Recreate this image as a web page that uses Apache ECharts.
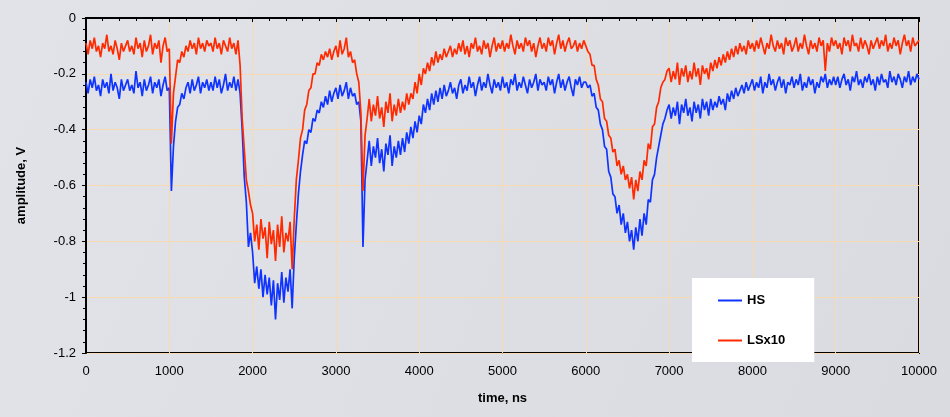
<!DOCTYPE html>
<html>
<head>
<meta charset="utf-8">
<script src="https://cdn.jsdelivr.net/npm/echarts@6/dist/echarts.min.js"></script>
<style>
html, body { margin: 0; padding: 0; }
#chart { width: 950px; height: 417px; }
</style>
</head>
<body>
<div id="chart"></div>
<script>
// samples every 25 ns, 0 .. 10000 ns
var sampleStep = 25;

// HS channel, V
var hsValues = [
  -0.23,-0.27,-0.22,-0.25,-0.21,-0.26,-0.24,-0.28,-0.22,-0.25,-0.23,-0.27,-0.20,-0.26,-0.23,-0.25,-0.29,-0.22,-0.26,-0.24,
  -0.22,-0.26,-0.24,-0.27,-0.19,-0.25,-0.23,-0.28,-0.22,-0.26,-0.24,-0.21,-0.27,-0.23,-0.25,-0.22,-0.28,-0.24,-0.21,-0.26,
  -0.25,-0.62,-0.46,-0.37,-0.32,-0.31,-0.27,-0.29,-0.25,-0.23,-0.27,-0.22,-0.26,-0.24,-0.21,-0.27,-0.23,-0.25,-0.22,-0.26,
  -0.23,-0.26,-0.21,-0.25,-0.22,-0.27,-0.24,-0.20,-0.26,-0.23,-0.25,-0.21,-0.26,-0.22,-0.27,-0.40,-0.57,-0.66,-0.82,-0.77,
  -0.84,-0.95,-0.89,-0.97,-0.90,-1.00,-0.92,-0.99,-0.93,-1.03,-0.94,-1.08,-0.95,-1.01,-0.91,-1.02,-0.93,-0.98,-0.90,-1.04,
  -0.86,-0.74,-0.63,-0.55,-0.49,-0.44,-0.45,-0.40,-0.41,-0.36,-0.37,-0.33,-0.34,-0.30,-0.32,-0.28,-0.31,-0.26,-0.30,-0.27,
  -0.25,-0.29,-0.24,-0.28,-0.26,-0.23,-0.29,-0.25,-0.28,-0.27,-0.31,-0.30,-0.37,-0.82,-0.58,-0.51,-0.44,-0.53,-0.46,-0.50,
  -0.43,-0.52,-0.47,-0.55,-0.45,-0.49,-0.42,-0.53,-0.46,-0.50,-0.44,-0.49,-0.43,-0.48,-0.41,-0.45,-0.39,-0.43,-0.37,-0.41,
  -0.35,-0.38,-0.31,-0.34,-0.29,-0.33,-0.27,-0.31,-0.26,-0.30,-0.25,-0.29,-0.24,-0.28,-0.26,-0.23,-0.27,-0.25,-0.29,-0.24,
  -0.22,-0.27,-0.24,-0.26,-0.21,-0.25,-0.23,-0.28,-0.24,-0.21,-0.26,-0.23,-0.25,-0.20,-0.24,-0.27,-0.22,-0.25,-0.23,-0.26,
  -0.21,-0.25,-0.23,-0.27,-0.22,-0.24,-0.20,-0.26,-0.23,-0.25,-0.21,-0.24,-0.27,-0.22,-0.25,-0.23,-0.20,-0.26,-0.22,-0.24,
  -0.23,-0.26,-0.21,-0.24,-0.22,-0.27,-0.23,-0.20,-0.25,-0.22,-0.26,-0.23,-0.21,-0.25,-0.28,-0.22,-0.24,-0.21,-0.25,-0.23,
  -0.23,-0.25,-0.24,-0.28,-0.27,-0.32,-0.33,-0.38,-0.40,-0.46,-0.47,-0.55,-0.57,-0.63,-0.64,-0.70,-0.67,-0.74,-0.70,-0.77,
  -0.73,-0.80,-0.76,-0.83,-0.75,-0.80,-0.72,-0.78,-0.70,-0.74,-0.65,-0.66,-0.58,-0.56,-0.50,-0.46,-0.42,-0.38,-0.36,-0.33,
  -0.31,-0.36,-0.32,-0.35,-0.30,-0.38,-0.31,-0.34,-0.29,-0.35,-0.32,-0.37,-0.30,-0.34,-0.31,-0.36,-0.29,-0.33,-0.30,-0.35,
  -0.29,-0.33,-0.30,-0.32,-0.28,-0.31,-0.29,-0.33,-0.27,-0.30,-0.26,-0.29,-0.25,-0.28,-0.26,-0.24,-0.27,-0.23,-0.26,-0.24,
  -0.22,-0.26,-0.23,-0.25,-0.21,-0.27,-0.23,-0.25,-0.20,-0.24,-0.22,-0.26,-0.23,-0.21,-0.25,-0.22,-0.27,-0.23,-0.24,-0.21,
  -0.25,-0.22,-0.24,-0.20,-0.26,-0.23,-0.25,-0.21,-0.24,-0.22,-0.27,-0.23,-0.25,-0.21,-0.23,-0.20,-0.25,-0.22,-0.24,-0.21,
  -0.24,-0.21,-0.25,-0.22,-0.20,-0.24,-0.22,-0.26,-0.21,-0.23,-0.19,-0.24,-0.22,-0.25,-0.21,-0.23,-0.20,-0.24,-0.22,-0.26,
  -0.21,-0.24,-0.20,-0.23,-0.22,-0.25,-0.19,-0.23,-0.21,-0.24,-0.20,-0.22,-0.25,-0.21,-0.23,-0.19,-0.24,-0.21,-0.23,-0.20,
  -0.22
];

// LS channel x10, V
var lsValues = [
  -0.09,-0.13,-0.08,-0.11,-0.07,-0.12,-0.10,-0.14,-0.09,-0.11,-0.06,-0.12,-0.10,-0.13,-0.08,-0.11,-0.15,-0.09,-0.12,-0.10,
  -0.08,-0.12,-0.10,-0.13,-0.07,-0.11,-0.09,-0.14,-0.08,-0.12,-0.10,-0.06,-0.13,-0.09,-0.11,-0.08,-0.16,-0.10,-0.07,-0.12,
  -0.11,-0.45,-0.27,-0.21,-0.15,-0.16,-0.12,-0.14,-0.10,-0.12,-0.08,-0.11,-0.09,-0.13,-0.07,-0.11,-0.09,-0.12,-0.08,-0.10,
  -0.09,-0.12,-0.07,-0.11,-0.09,-0.13,-0.08,-0.10,-0.12,-0.07,-0.11,-0.09,-0.13,-0.08,-0.17,-0.36,-0.47,-0.58,-0.62,-0.67,
  -0.70,-0.80,-0.74,-0.83,-0.72,-0.79,-0.75,-0.86,-0.73,-0.81,-0.76,-0.87,-0.74,-0.82,-0.71,-0.84,-0.77,-0.80,-0.73,-0.90,
  -0.72,-0.58,-0.51,-0.43,-0.40,-0.33,-0.31,-0.26,-0.25,-0.20,-0.20,-0.16,-0.17,-0.13,-0.15,-0.12,-0.14,-0.11,-0.15,-0.12,
  -0.10,-0.14,-0.08,-0.13,-0.11,-0.07,-0.14,-0.12,-0.16,-0.15,-0.20,-0.23,-0.34,-0.62,-0.42,-0.36,-0.29,-0.37,-0.31,-0.35,
  -0.28,-0.36,-0.32,-0.39,-0.30,-0.34,-0.27,-0.37,-0.31,-0.35,-0.29,-0.34,-0.30,-0.33,-0.27,-0.31,-0.27,-0.29,-0.23,-0.27,
  -0.20,-0.24,-0.18,-0.20,-0.16,-0.19,-0.14,-0.17,-0.12,-0.16,-0.13,-0.15,-0.11,-0.14,-0.12,-0.10,-0.14,-0.11,-0.13,-0.09,
  -0.12,-0.08,-0.13,-0.10,-0.14,-0.09,-0.11,-0.07,-0.12,-0.10,-0.13,-0.08,-0.11,-0.09,-0.14,-0.10,-0.07,-0.12,-0.09,-0.11,
  -0.08,-0.12,-0.09,-0.11,-0.06,-0.10,-0.13,-0.08,-0.11,-0.09,-0.12,-0.07,-0.10,-0.08,-0.12,-0.09,-0.14,-0.10,-0.07,-0.11,
  -0.09,-0.12,-0.07,-0.10,-0.08,-0.13,-0.09,-0.06,-0.11,-0.08,-0.12,-0.09,-0.07,-0.11,-0.10,-0.08,-0.12,-0.09,-0.11,-0.08,
  -0.10,-0.12,-0.13,-0.17,-0.17,-0.22,-0.24,-0.29,-0.30,-0.36,-0.37,-0.42,-0.43,-0.48,-0.47,-0.53,-0.51,-0.56,-0.53,-0.58,
  -0.56,-0.61,-0.57,-0.65,-0.58,-0.62,-0.55,-0.58,-0.51,-0.53,-0.45,-0.47,-0.39,-0.38,-0.32,-0.30,-0.25,-0.23,-0.22,-0.19,
  -0.18,-0.23,-0.19,-0.22,-0.16,-0.24,-0.18,-0.21,-0.17,-0.23,-0.19,-0.22,-0.16,-0.21,-0.18,-0.24,-0.17,-0.20,-0.18,-0.22,
  -0.16,-0.19,-0.15,-0.18,-0.14,-0.17,-0.13,-0.16,-0.12,-0.15,-0.11,-0.14,-0.10,-0.13,-0.09,-0.12,-0.10,-0.13,-0.08,-0.11,
  -0.09,-0.12,-0.08,-0.11,-0.07,-0.10,-0.13,-0.09,-0.11,-0.06,-0.10,-0.12,-0.08,-0.11,-0.09,-0.13,-0.07,-0.10,-0.08,-0.12,
  -0.10,-0.07,-0.12,-0.09,-0.11,-0.06,-0.10,-0.13,-0.08,-0.11,-0.09,-0.12,-0.07,-0.10,-0.08,-0.19,-0.09,-0.12,-0.07,-0.10,
  -0.08,-0.11,-0.09,-0.13,-0.07,-0.10,-0.08,-0.12,-0.06,-0.10,-0.09,-0.12,-0.07,-0.11,-0.08,-0.10,-0.13,-0.08,-0.11,-0.09,
  -0.07,-0.11,-0.08,-0.10,-0.06,-0.12,-0.09,-0.11,-0.07,-0.10,-0.08,-0.13,-0.09,-0.06,-0.10,-0.08,-0.12,-0.07,-0.10,-0.09,
  -0.08
];

var seriesNames = ['HS', 'LSx10'];
var seriesColors = ['#1034ff', '#ff2a00'];

function toPairs(vals) {
  var out = [];
  for (var i = 0; i < vals.length; i++) {
    out.push([i * sampleStep, vals[i]]);
  }
  return out;
}

var font = '"Liberation Sans", Arial, sans-serif';
var gridColor = '#f7d9b2';

var chart = echarts.init(document.getElementById('chart'), null, { renderer: 'canvas' });
chart.setOption({
  animation: false,
  backgroundColor: new echarts.graphic.LinearGradient(0, 0, 1, 1, [
    { offset: 0, color: '#e2e3e8' },
    { offset: 1, color: '#d9dbe0' }
  ]),
  grid: {
    left: 86, right: 31, top: 18, bottom: 64,
    show: true, borderColor: '#000', borderWidth: 2,
    backgroundColor: 'transparent'
  },
  legend: {
    data: seriesNames,
    orient: 'vertical',
    left: 692, top: 278,
    padding: [16, 29, 15, 26],
    itemGap: 27,
    icon: 'rect',
    itemWidth: 24, itemHeight: 2,
    backgroundColor: '#ffffff',
    textStyle: { fontFamily: font, fontSize: 13, fontWeight: 'bold', color: '#000' }
  },
  xAxis: {
    type: 'value',
    min: 0, max: 10000, interval: 1000,
    name: 'time, ns',
    nameLocation: 'middle',
    nameGap: 39,
    nameTextStyle: { fontFamily: font, fontSize: 13, fontWeight: 'bold', color: '#000' },
    axisLine: { lineStyle: { color: '#000', width: 2 } },
    axisTick: { length: 4, lineStyle: { color: '#000' } },
    minorTick: { show: true, splitNumber: 5, length: 3, lineStyle: { color: '#000' } },
    axisLabel: {
      fontFamily: font, fontSize: 13, color: '#000', margin: 12,
      formatter: function (v) { return String(v); }
    },
    splitLine: { show: true, lineStyle: { color: gridColor, width: 1 } }
  },
  yAxis: {
    type: 'value',
    min: -1.2, max: 0, interval: 0.2,
    name: 'amplitude, V',
    nameLocation: 'middle',
    nameGap: 58,
    nameTextStyle: { fontFamily: font, fontSize: 13, fontWeight: 'bold', color: '#000' },
    axisLine: { show: true, lineStyle: { color: '#000', width: 2 } },
    axisTick: { show: true, length: 4, lineStyle: { color: '#000' } },
    minorTick: { show: true, splitNumber: 5, length: 3, lineStyle: { color: '#000' } },
    axisLabel: { fontFamily: font, fontSize: 13, color: '#000', margin: 10 },
    splitLine: { show: true, lineStyle: { color: gridColor, width: 1 } }
  },
  series: [
    {
      name: seriesNames[0], type: 'line', symbol: 'none',
      color: seriesColors[0],
      lineStyle: { width: 1.7, color: seriesColors[0] },
      data: toPairs(hsValues)
    },
    {
      name: seriesNames[1], type: 'line', symbol: 'none',
      color: seriesColors[1],
      lineStyle: { width: 1.7, color: seriesColors[1] },
      data: toPairs(lsValues)
    }
  ]
});
</script>
</body>
</html>
